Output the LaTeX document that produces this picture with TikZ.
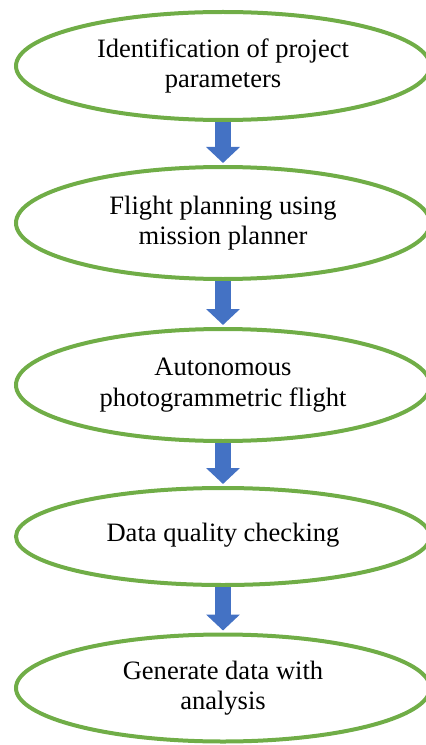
\documentclass[tikz,border=0pt]{standalone}
\usepackage{fontspec}
\setmainfont{Liberation Serif}
\usepackage{xcolor}
\usetikzlibrary{arrows.meta}
\usetikzlibrary{shapes.geometric}
\definecolor{stagegreen}{RGB}{112,173,71}
\definecolor{flowblue}{RGB}{68,114,196}

\begin{document}
\begin{tikzpicture}[
  stage/.style={ellipse,draw=stagegreen,line width=0.08cm,minimum width=8.28cm,align=center,inner sep=0pt,font=\fontsize{15.1}{17.4}\selectfont},
  flow/.style={flowblue,line width=0.32cm,shorten >=0.04cm,-{Triangle[length=0.32cm,width=0.66cm]}}
]
\useasboundingbox (0,0) rectangle (8.52,-14.9);
\node[stage,minimum height=2.16cm] (e1) at (4.46,-1.32) {Identification of project\\parameters};
\node[stage,minimum height=2.24cm] (e2) at (4.46,-4.46) {Flight planning using\\mission planner};
\node[stage,minimum height=2.24cm] (e3) at (4.46,-7.70) {Autonomous\\photogrammetric flight};
\node[stage,minimum height=1.94cm] (e4) at (4.46,-10.73) {\raisebox{0.17cm}{Data quality checking}};
\node[stage,minimum height=2.14cm] (e5) at (4.46,-13.76) {Generate data with\\analysis};
\foreach \a/\b in {e1/e2,e2/e3,e3/e4,e4/e5}{
\draw[flow] (\a) -- (\b);
}
\end{tikzpicture}
\end{document}
